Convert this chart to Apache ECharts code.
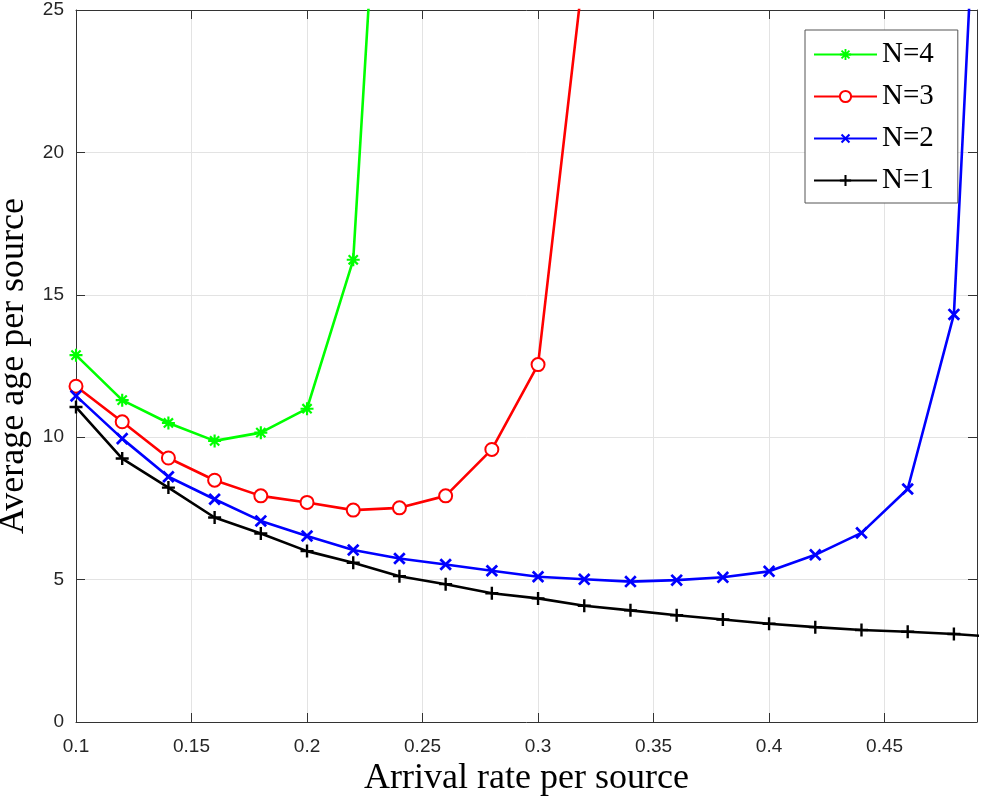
<!DOCTYPE html>
<html>
<head>
<meta charset="utf-8">
<script src="https://cdn.jsdelivr.net/npm/echarts@6/dist/echarts.min.js"></script>
<style>html,body{margin:0;padding:0;background:#fff}#c{width:982px;height:796px}</style>
</head>
<body>
<div id="c"></div>
<script>
// Data
const xVals = [0.1,0.12,0.14,0.16,0.18,0.2,0.22,0.24,0.26,0.28,0.3,0.32,0.34,0.36,0.38,0.4,0.42,0.44,0.46,0.48,0.5];
const n1 = [11.06,9.25,8.23,7.18,6.62,6.0,5.59,5.12,4.84,4.52,4.34,4.08,3.92,3.75,3.60,3.45,3.33,3.23,3.17,3.09,2.98];
const n2 = [11.45,9.95,8.61,7.82,7.06,6.53,6.04,5.74,5.53,5.31,5.10,5.01,4.93,4.98,5.08,5.29,5.87,6.64,8.18,14.31,47];
const n3 = [11.79,10.54,9.27,8.49,7.94,7.71,7.44,7.52,7.94,9.57,12.55,26.6];
const n4 = [12.88,11.3,10.5,9.87,10.16,11.0,16.23,43];
const seriesNames = ['N=4','N=3','N=2','N=1'];
const xTicks = [0.1,0.15,0.2,0.25,0.3,0.35,0.4,0.45];
const yTicks = [0,5,10,15,20,25];

function pairs(vals){ return vals.map((v,i)=>[xVals[i], v]); }

const plusPath = 'path://M-1.1,-6H1.1V-1.1H6V1.1H1.1V6H-1.1V1.1H-6V-1.1H-1.1Z';
const starPath = 'path://M-1,-6H1V-1H6V1H1V6H-1V1H-6V-1H-1Z' +
  'M-4.95,-3.53L-3.53,-4.95L4.95,3.53L3.53,4.95Z' +
  'M4.95,-3.53L-3.53,4.95L-4.95,3.53L3.53,-4.95Z';

const axisColor = '#333';
const tickFont = {fontFamily:'"Liberation Sans", Arial, sans-serif', fontSize:19, color:'#262626'};
const nameFont = {fontFamily:'"Liberation Serif", "Times New Roman", serif', fontSize:36, color:'#000'};

function mk(name, vals, color, symbol, size, rotate, extra){
  return Object.assign({
    name: name, type:'line', data: pairs(vals),
    xAxisIndex:0, yAxisIndex:0,
    symbol: symbol, symbolSize: size, symbolRotate: rotate,
    showAllSymbol: true, clip: true,
    lineStyle:{color:color, width:2.6},
    itemStyle:{color:color, borderColor:color, borderWidth:0},
    emphasis:{disabled:true}
  }, extra||{});
}

const chart = echarts.init(document.getElementById('c'), null, {renderer:'canvas'});
chart.setOption({
  animation:false,
  backgroundColor:'#fff',
  grid:{left:76, right:5, top:10, bottom:74, containLabel:false, outerBoundsMode:'none'},
  legend:{
    orient:'vertical', left:805, top:30,
    data: seriesNames,
    itemWidth:63, itemHeight:14, itemGap:13,
    padding:[10,24,8,8],
    backgroundColor:'#fff', borderColor:'#555', borderWidth:1, borderRadius:0,
    textStyle:{fontFamily:'"Liberation Serif", "Times New Roman", serif', fontSize:29, color:'#000', lineHeight:28},
    selectedMode:false
  },
  xAxis:[{
    type:'value', position:'bottom', min:0.1, max:0.49, interval:0.05,
    name:'Arrival rate per source', nameLocation:'middle', nameGap:36, nameTextStyle:nameFont,
    axisLine:{show:true, onZero:false, lineStyle:{color:axisColor, width:1}},
    axisTick:{show:true, inside:true, length:9, lineStyle:{color:axisColor}},
    axisLabel:{show:true, margin:15, showMaxLabel:false, ...tickFont,
      formatter:function(v){ for (const t of xTicks){ if (Math.abs(t-v)<1e-9) return String(t);} return ''; }},
    splitLine:{show:true, lineStyle:{color:'#e3e3e3', width:1}}
  },{
    type:'value', position:'top', min:0.1, max:0.49, interval:0.05,
    axisLine:{show:true, onZero:false, lineStyle:{color:axisColor, width:1}},
    axisTick:{show:true, inside:true, length:9, lineStyle:{color:axisColor}},
    axisLabel:{show:false}, splitLine:{show:false}
  }],
  yAxis:[{
    type:'value', position:'left', min:0, max:25, interval:5,
    name:'Average age per source', nameLocation:'middle', nameGap:33, nameRotate:90, nameTextStyle:nameFont,
    axisLine:{show:true, onZero:false, lineStyle:{color:axisColor, width:1}},
    axisTick:{show:true, inside:true, length:9, lineStyle:{color:axisColor}},
    axisLabel:{show:true, margin:12, ...tickFont,
      formatter:function(v){ for (const t of yTicks){ if (Math.abs(t-v)<1e-9) return String(t);} return ''; }},
    splitLine:{show:true, lineStyle:{color:'#e3e3e3', width:1}}
  },{
    type:'value', position:'right', min:0, max:25, interval:5,
    axisLine:{show:true, onZero:false, lineStyle:{color:axisColor, width:1}},
    axisTick:{show:true, inside:true, length:9, lineStyle:{color:axisColor}},
    axisLabel:{show:false}, splitLine:{show:false}
  }],
  series:[
    mk('N=4', n4, '#00ff00', starPath, 13, 0),
    mk('N=3', n3, '#ff0000', 'emptyCircle', 13, 0, {itemStyle:{color:'#ff0000', borderColor:'#ff0000', borderWidth:2.4}}),
    mk('N=2', n2, '#0000ff', plusPath, 15, 45),
    mk('N=1', n1, '#000000', plusPath, 13, 0)
  ]
});
</script>
</body>
</html>
